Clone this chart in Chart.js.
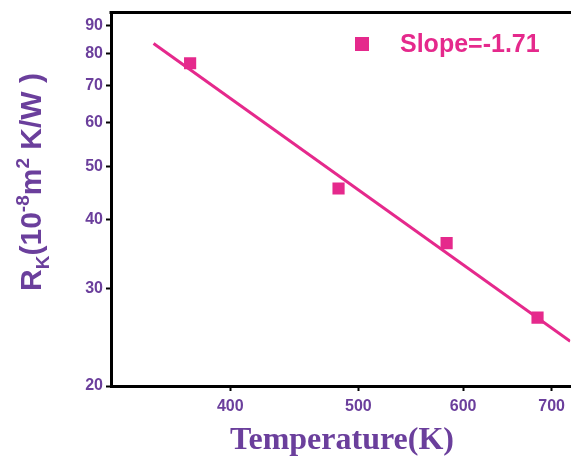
<!DOCTYPE html>
<html>
<head>
<meta charset="utf-8">
<script src="https://cdn.jsdelivr.net/npm/chart.js@4.4.0/dist/chart.umd.min.js"></script>
<style>
  html, body { margin: 0; padding: 0; background: #fff; }
  #wrap { width: 571px; height: 456px; position: relative; }
</style>
</head>
<body>
<div id="wrap"><canvas id="grafico" width="571" height="456"></canvas></div>
<script>
// dados
const temperaturas = [373, 483, 583, 683];
const resistencias = [76.9, 45.6, 36.3, 26.6];
const ajusteX = [350, 723];
const ajusteY = [83.5, 24.1];
const ticksX = [400, 500, 600, 700];
const ticksY = [20, 30, 40, 50, 60, 70, 80, 90];
const legenda = "Slope=-1.71";

const roxo = "#6b3f9c";
const rosa = "#e5298c";

const pontos = temperaturas.map((t, i) => ({ x: t, y: resistencias[i] }));
const linha = ajusteX.map((t, i) => ({ x: t, y: ajusteY[i] }));

// títulos, borda de cima e legenda
const extras = {
  id: "extras",
  afterDraw(chart) {
    const ctx = chart.ctx;
    const area = chart.chartArea;
    ctx.save();
    ctx.strokeStyle = "#000";
    ctx.lineWidth = 3;
    ctx.beginPath();
    ctx.moveTo(area.left - 1.5, area.top);
    ctx.lineTo(chart.width, area.top);
    ctx.stroke();

    // legenda
    ctx.fillStyle = rosa;
    ctx.fillRect(355, 37, 14, 14);
    ctx.font = "bold 25px Arial, 'Liberation Sans'";
    ctx.textBaseline = "middle";
    ctx.textAlign = "left";
    ctx.fillText(legenda, 400, 45);

    // título eixo x
    ctx.fillStyle = roxo;
    ctx.font = "bold 32px 'Times New Roman', 'Liberation Serif'";
    ctx.textAlign = "center";
    ctx.textBaseline = "alphabetic";
    ctx.fillText("Temperature(K)", 342, 449);

    // título eixo y com sub/sobrescritos
    const partes = [
      { t: "R", s: 30, d: 0 },
      { t: "K", s: 19, d: 8 },
      { t: "(10", s: 30, d: 0 },
      { t: "-8", s: 19, d: -12 },
      { t: "m", s: 30, d: 0 },
      { t: "2", s: 19, d: -12 },
      { t: " K/W )", s: 30, d: 0 }
    ];
    let total = 0;
    partes.forEach(p => {
      ctx.font = "bold " + p.s + "px Arial, 'Liberation Sans'";
      p.w = ctx.measureText(p.t).width;
      total += p.w;
    });
    ctx.translate(41, 182);
    ctx.rotate(-Math.PI / 2);
    ctx.textAlign = "left";
    let x = -total / 2;
    partes.forEach(p => {
      ctx.font = "bold " + p.s + "px Arial, 'Liberation Sans'";
      ctx.fillText(p.t, x, p.d);
      x += p.w;
    });
    ctx.restore();
  }
};

new Chart(document.getElementById("grafico").getContext("2d"), {
  data: {
    datasets: [
      {
        type: "line",
        data: linha,
        borderColor: rosa,
        borderWidth: 3,
        pointRadius: 0,
        fill: false
      },
      {
        type: "scatter",
        data: pontos,
        backgroundColor: rosa,
        borderColor: rosa,
        pointStyle: "rect",
        pointRadius: 8.6,
        borderWidth: 0
      }
    ]
  },
  options: {
    responsive: false,
    animation: false,
    layout: { autoPadding: false, padding: { top: 11, right: 0, left: 0, bottom: 0 } },
    plugins: { legend: { display: false }, tooltip: { enabled: false } },
    scales: {
      x: {
        type: "logarithmic",
        min: 325,
        max: 723,
        afterBuildTicks: s => { s.ticks = ticksX.map(v => ({ value: v })); },
        afterFit: s => { s.height = 70; },
        grid: { drawOnChartArea: false, tickLength: 5, color: "#000", tickWidth: 2 },
        border: { color: "#000", width: 3 },
        ticks: {
          color: roxo,
          font: { family: "Arial, 'Liberation Sans'", size: 16, weight: "bold" },
          padding: 6,
          maxRotation: 0,
          callback: v => String(v)
        }
      },
      y: {
        type: "logarithmic",
        min: 20,
        max: 95,
        afterBuildTicks: s => { s.ticks = ticksY.map(v => ({ value: v })); },
        afterFit: s => { s.width = 111; },
        grid: { drawOnChartArea: false, tickLength: 5, color: "#000", tickWidth: 2 },
        border: { color: "#000", width: 3 },
        ticks: {
          color: roxo,
          font: { family: "Arial, 'Liberation Sans'", size: 16, weight: "bold" },
          padding: 3,
          callback: v => String(v)
        }
      }
    }
  },
  plugins: [extras]
});
</script>
</body>
</html>
